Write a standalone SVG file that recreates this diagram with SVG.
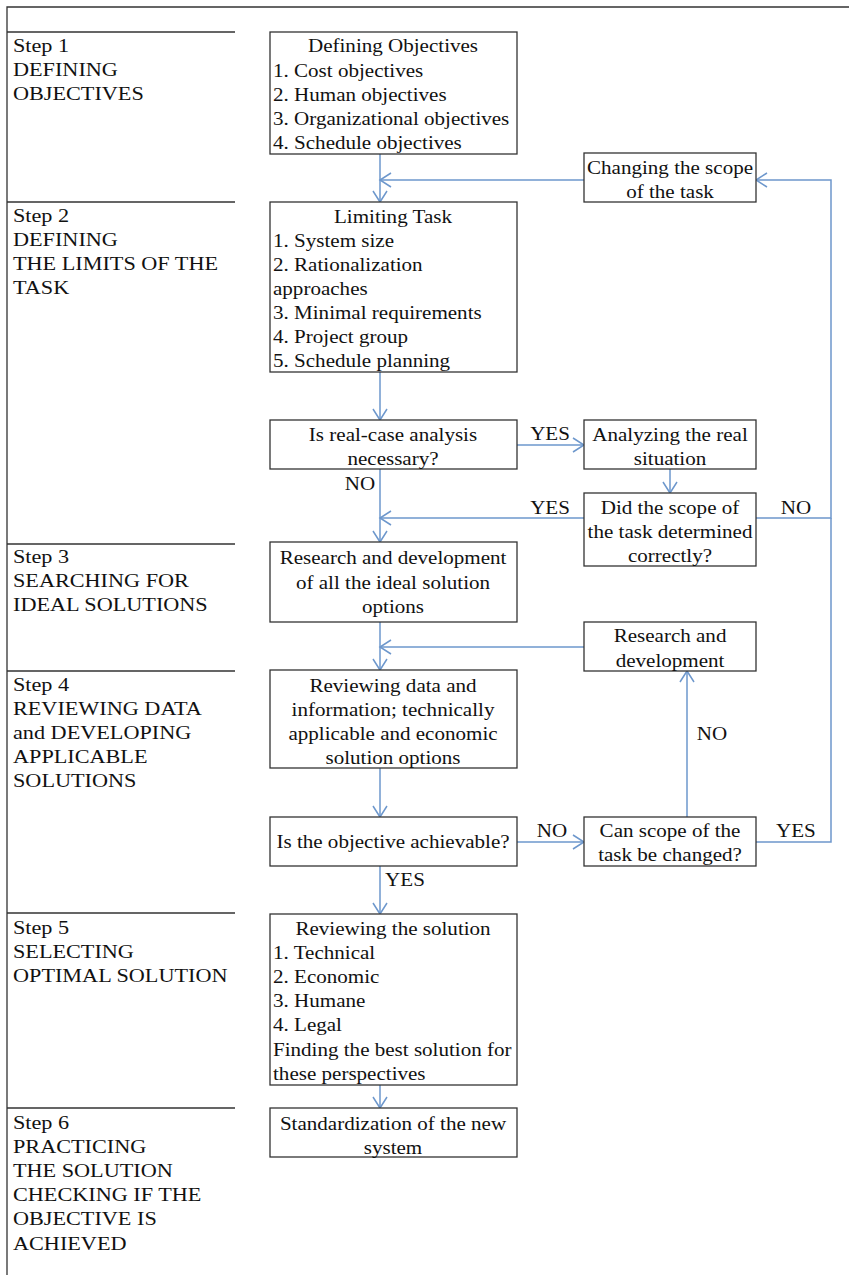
<svg xmlns="http://www.w3.org/2000/svg" width="849" height="1275" viewBox="0 0 849 1275">
<defs>
<style>
text{font-size:19.5px;fill:#111}
.c{text-anchor:middle}
.box{fill:#fff;stroke:#333;stroke-width:1.3}
.sep{stroke:#333;stroke-width:1.3;fill:none}
.con{stroke:#6d97cc;stroke-width:1.5;fill:none}
</style>
<marker id="ah" markerUnits="userSpaceOnUse" markerWidth="14" markerHeight="16" viewBox="0 0 14 16" refX="12" refY="8" orient="auto">
<path d="M1,1 L12,8 L1,15" fill="none" stroke="#6d97cc" stroke-width="1.5"/>
</marker>
</defs>
<rect width="849" height="1275" fill="#fff"/>
<g font-family="Liberation Serif, Times New Roman, serif">
<g id="frame">
<path class="sep" d="M7,1275 V7 H849"/>
<path class="sep" d="M7,32 H235 M7,202 H235 M7,544 H235 M7,671 H235 M7,913 H235 M7,1108 H235"/>
</g>
<g id="steps" transform="scale(1.14 1)">
<text x="11.4" y="52">Step 1</text><text x="11.4" y="76">DEFINING</text><text x="11.4" y="100">OBJECTIVES</text>
<text x="11.4" y="222">Step 2</text><text x="11.4" y="246">DEFINING</text><text x="11.4" y="270">THE LIMITS OF THE</text><text x="11.4" y="294">TASK</text>
<text x="11.4" y="563">Step 3</text><text x="11.4" y="587">SEARCHING FOR</text><text x="11.4" y="611">IDEAL SOLUTIONS</text>
<text x="11.4" y="691">Step 4</text><text x="11.4" y="715">REVIEWING DATA</text><text x="11.4" y="739">and DEVELOPING</text><text x="11.4" y="763">APPLICABLE</text><text x="11.4" y="787">SOLUTIONS</text>
<text x="11.4" y="934">Step 5</text><text x="11.4" y="958">SELECTING</text><text x="11.4" y="982">OPTIMAL SOLUTION</text>
<text x="11.4" y="1129">Step 6</text><text x="11.4" y="1153">PRACTICING</text><text x="11.4" y="1177">THE SOLUTION</text><text x="11.4" y="1201">CHECKING IF THE</text><text x="11.4" y="1225">OBJECTIVE IS</text><text x="11.4" y="1250">ACHIEVED</text>
</g>
<g id="connectors">
<line class="con" x1="380" y1="154" x2="380" y2="202" marker-end="url(#ah)"/>
<line class="con" x1="584" y1="180" x2="380" y2="180" marker-end="url(#ah)"/>
<path class="con" d="M756,518 H831 V180 H756" marker-end="url(#ah)"/>
<path class="con" d="M756,842 H831 V518"/>
<line class="con" x1="380" y1="372" x2="380" y2="420" marker-end="url(#ah)"/>
<line class="con" x1="517" y1="445" x2="584" y2="445" marker-end="url(#ah)"/>
<line class="con" x1="670" y1="469" x2="670" y2="493" marker-end="url(#ah)"/>
<line class="con" x1="584" y1="518" x2="380" y2="518" marker-end="url(#ah)"/>
<line class="con" x1="380" y1="469" x2="380" y2="542" marker-end="url(#ah)"/>
<line class="con" x1="380" y1="622" x2="380" y2="670" marker-end="url(#ah)"/>
<line class="con" x1="584" y1="647" x2="380" y2="647" marker-end="url(#ah)"/>
<line class="con" x1="380" y1="768" x2="380" y2="817" marker-end="url(#ah)"/>
<line class="con" x1="517" y1="842" x2="584" y2="842" marker-end="url(#ah)"/>
<line class="con" x1="687" y1="817" x2="687" y2="671" marker-end="url(#ah)"/>
<line class="con" x1="380" y1="866" x2="380" y2="914" marker-end="url(#ah)"/>
<line class="con" x1="380" y1="1085" x2="380" y2="1108" marker-end="url(#ah)"/>
<g transform="scale(1.08 1)">
<text x="509.3" y="440" class="c">YES</text>
<text x="509.3" y="514" class="c">YES</text>
<text x="737" y="514" class="c">NO</text>
<text x="333.3" y="490" class="c">NO</text>
<text x="659.3" y="740" class="c">NO</text>
<text x="511.1" y="837" class="c">NO</text>
<text x="737" y="837" class="c">YES</text>
<text x="375" y="886" class="c">YES</text>
</g>
</g>
<g id="n-defining">
<rect class="box" x="270" y="32" width="247" height="122"/>
<g transform="scale(1.08 1)">
<text x="363.9" y="52" class="c">Defining Objectives</text>
<text x="252.8" y="77">1. Cost objectives</text><text x="252.8" y="101">2. Human objectives</text><text x="252.8" y="125">3. Organizational objectives</text><text x="252.8" y="149">4. Schedule objectives</text>
</g>
</g>
<g id="n-changing">
<rect class="box" x="584" y="153" width="172" height="49"/>
<g transform="scale(1.08 1)">
<text x="620.4" y="174" class="c">Changing the scope</text><text x="620.4" y="198" class="c">of the task</text>
</g>
</g>
<g id="n-limiting">
<rect class="box" x="270" y="202" width="247" height="170"/>
<g transform="scale(1.08 1)">
<text x="363.9" y="223" class="c">Limiting Task</text>
<text x="252.8" y="247">1. System size</text><text x="252.8" y="271">2. Rationalization</text><text x="252.8" y="295">approaches</text><text x="252.8" y="319">3. Minimal requirements</text><text x="252.8" y="343">4. Project group</text><text x="252.8" y="367">5. Schedule planning</text>
</g>
</g>
<g id="n-realcase">
<rect class="box" x="270" y="420" width="247" height="49"/>
<g transform="scale(1.08 1)">
<text x="363.9" y="441" class="c">Is real-case analysis</text><text x="363.9" y="465" class="c">necessary?</text>
</g>
</g>
<g id="n-analyzing">
<rect class="box" x="584" y="420" width="172" height="49"/>
<g transform="scale(1.08 1)">
<text x="620.4" y="441" class="c">Analyzing the real</text><text x="620.4" y="465" class="c">situation</text>
</g>
</g>
<g id="n-didscope">
<rect class="box" x="584" y="493" width="172" height="73"/>
<g transform="scale(1.08 1)">
<text x="620.4" y="514" class="c">Did the scope of</text><text x="620.4" y="538" class="c">the task determined</text><text x="620.4" y="562" class="c">correctly?</text>
</g>
</g>
<g id="n-research-ideal">
<rect class="box" x="270" y="542" width="247" height="80"/>
<g transform="scale(1.08 1)">
<text x="363.9" y="564" class="c">Research and development</text><text x="363.9" y="589" class="c">of all the ideal solution</text><text x="363.9" y="613" class="c">options</text>
</g>
</g>
<g id="n-research">
<rect class="box" x="584" y="622" width="172" height="49"/>
<g transform="scale(1.08 1)">
<text x="620.4" y="642" class="c">Research and</text><text x="620.4" y="667" class="c">development</text>
</g>
</g>
<g id="n-reviewing-data">
<rect class="box" x="270" y="670" width="247" height="98"/>
<g transform="scale(1.08 1)">
<text x="363.9" y="692" class="c">Reviewing data and</text><text x="363.9" y="716" class="c">information; technically</text><text x="363.9" y="740" class="c">applicable and economic</text><text x="363.9" y="764" class="c">solution options</text>
</g>
</g>
<g id="n-achievable">
<rect class="box" x="270" y="817" width="247" height="49"/>
<g transform="scale(1.08 1)">
<text x="363.9" y="848" class="c">Is the objective achievable?</text>
</g>
</g>
<g id="n-canscope">
<rect class="box" x="584" y="817" width="172" height="49"/>
<g transform="scale(1.08 1)">
<text x="620.4" y="837" class="c">Can scope of the</text><text x="620.4" y="861" class="c">task be changed?</text>
</g>
</g>
<g id="n-reviewing-solution">
<rect class="box" x="270" y="914" width="247" height="171"/>
<g transform="scale(1.08 1)">
<text x="363.9" y="935" class="c">Reviewing the solution</text>
<text x="252.8" y="959">1. Technical</text><text x="252.8" y="983">2. Economic</text><text x="252.8" y="1007">3. Humane</text><text x="252.8" y="1031">4. Legal</text><text x="252.8" y="1056">Finding the best solution for</text><text x="252.8" y="1080">these perspectives</text>
</g>
</g>
<g id="n-standardization">
<rect class="box" x="270" y="1108" width="247" height="49"/>
<g transform="scale(1.08 1)">
<text x="363.9" y="1130" class="c">Standardization of the new</text><text x="363.9" y="1154" class="c">system</text>
</g>
</g>
</g>
</svg>
